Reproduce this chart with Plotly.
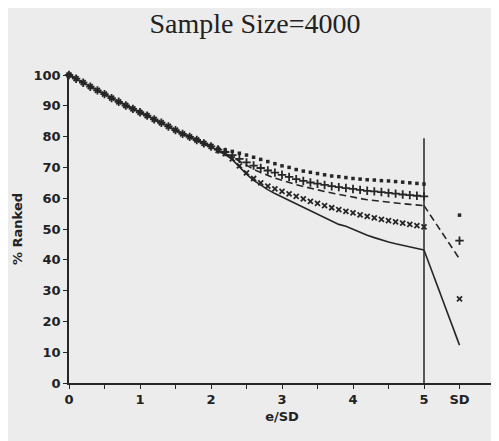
import plotly.graph_objects as go

x_vals = [round(i * 0.1, 1) for i in range(51)]
x_sd = 5.5

common = [100.0, 98.8, 97.5, 96.2, 95.0, 93.8, 92.5, 91.3, 90.1, 89.0,
          87.9, 86.8, 85.6, 84.5, 83.3, 82.1, 80.9, 79.9, 78.9, 77.8, 76.8]

dotted_tail = [76.2, 75.7, 75.2, 74.6, 74.0, 73.3, 72.6, 71.9, 71.2, 70.5,
               70.0, 69.3, 68.8, 68.4, 68.0, 67.6, 67.2, 67.0, 66.7, 66.4,
               66.2, 66.0, 65.9, 65.7, 65.6, 65.4, 65.2, 65.0, 64.8, 64.6]
plus_tail = [75.8, 75.0, 74.0, 72.8, 71.6, 70.6, 69.8, 69.0, 68.3, 67.6,
             66.9, 66.2, 65.6, 65.1, 64.7, 64.3, 63.9, 63.6, 63.3, 63.0,
             62.7, 62.4, 62.2, 62.0, 61.7, 61.5, 61.2, 61.0, 60.8, 60.6]
dash_tail = [75.6, 74.6, 73.4, 72.0, 70.6, 69.4, 68.3, 67.3, 66.5, 65.8,
             65.0, 64.4, 63.8, 63.2, 62.7, 62.2, 61.7, 61.2, 60.7, 60.3,
             59.9, 59.5, 59.2, 58.9, 58.7, 58.4, 58.2, 58.0, 57.8, 57.6]
cross_tail = [75.5, 74.5, 72.8, 70.5, 68.2, 66.4, 65.0, 63.9, 63.0, 62.2,
              61.4, 60.6, 59.8, 59.0, 58.3, 57.6, 56.9, 56.3, 55.7, 55.2,
              54.6, 54.1, 53.6, 53.1, 52.7, 52.3, 51.9, 51.5, 51.1, 50.7]
solid_tail = [75.3, 74.2, 72.5, 70.0, 67.8, 65.8, 64.2, 62.8, 61.5, 60.4,
              59.3, 58.2, 57.2, 56.0, 54.8, 53.8, 52.6, 51.5, 50.9, 49.9,
              48.8, 48.0, 47.2, 46.4, 45.8, 45.2, 44.7, 44.2, 43.7, 43.2]

dotted = common + dotted_tail
plus = common + plus_tail
dashed = common + dash_tail
cross = common + cross_tail
solid = common + solid_tail

sd_dotted = 54.5
sd_plus = 46.2
sd_dashed = 40.3
sd_cross = 27.3
sd_solid = 12.3

tick_vals = [0, 0.5, 1, 1.5, 2, 2.5, 3, 3.5, 4, 4.5, 5, 5.5, 6]
tick_text = ["0", "", "1", "", "2", "", "3", "", "4", "", "5", "SD", ""]

ink = "#262626"
bg = "#ececec"

fig = go.Figure()
fig.add_trace(go.Scatter(x=x_vals, y=solid, mode="lines",
                         line=dict(color=ink, width=1.6)))
fig.add_trace(go.Scatter(x=[5.0, x_sd], y=[solid[-1], sd_solid], mode="lines",
                         line=dict(color=ink, width=1.6)))
fig.add_trace(go.Scatter(x=x_vals, y=dashed, mode="lines",
                         line=dict(color=ink, width=1.6, dash="7px,4px")))
fig.add_trace(go.Scatter(x=[5.0, x_sd], y=[dashed[-1], sd_dashed], mode="lines",
                         line=dict(color=ink, width=1.6, dash="7px,4px")))
fig.add_trace(go.Scatter(x=x_vals + [x_sd], y=cross + [sd_cross], mode="markers",
                         marker=dict(symbol="x-thin", size=5, line=dict(color=ink, width=1.8))))
fig.add_trace(go.Scatter(x=x_vals + [x_sd], y=plus + [sd_plus], mode="markers",
                         marker=dict(symbol="cross-thin", size=6, line=dict(color=ink, width=1.8))))
fig.add_trace(go.Scatter(x=x_vals + [x_sd], y=dotted + [sd_dotted], mode="markers",
                         marker=dict(symbol="square", size=3.5, color=ink)))

fig.add_shape(type="line", x0=5, x1=5, y0=0, y1=79.5, xref="x", yref="y",
              line=dict(color=ink, width=1.5))

fig.update_layout(
    width=499, height=441,
    margin=dict(l=61, r=12, t=67, b=66, autoexpand=False),
    paper_bgcolor=bg, plot_bgcolor=bg,
    showlegend=False,
    title=dict(text="Sample Size=4000", x=247 / 499, xref="container", xanchor="center",
               y=1 - 15 / 441, yref="container", yanchor="middle",
               font=dict(family="Liberation Serif", size=28, color="#222")),
    font=dict(family="DejaVu Sans", size=13, color="#222"),
)
fig.update_xaxes(range=[0, 6], tickmode="array", tickvals=tick_vals, ticktext=tick_text,
                 automargin=False,
                 showgrid=False, zeroline=False, showline=True, linecolor=ink, linewidth=1.5,
                 ticks="outside", ticklen=4, tickcolor=ink,
                 title=dict(text="e/SD", standoff=6, font=dict(size=13, weight="bold")),
                 tickfont=dict(size=13, weight="bold"))
fig.update_yaxes(range=[0, 100], tickmode="array", tickvals=list(range(0, 101, 10)),
                 automargin=False,
                 showgrid=False, zeroline=False, showline=True, linecolor=ink, linewidth=1.5,
                 mirror=True, ticks="outside", ticklen=4, tickcolor=ink,
                 title=dict(text="% Ranked", standoff=8, font=dict(size=13, weight="bold")),
                 tickfont=dict(size=13, weight="bold"))
fig.update_traces(cliponaxis=False)

fig.write_html("out.html")
